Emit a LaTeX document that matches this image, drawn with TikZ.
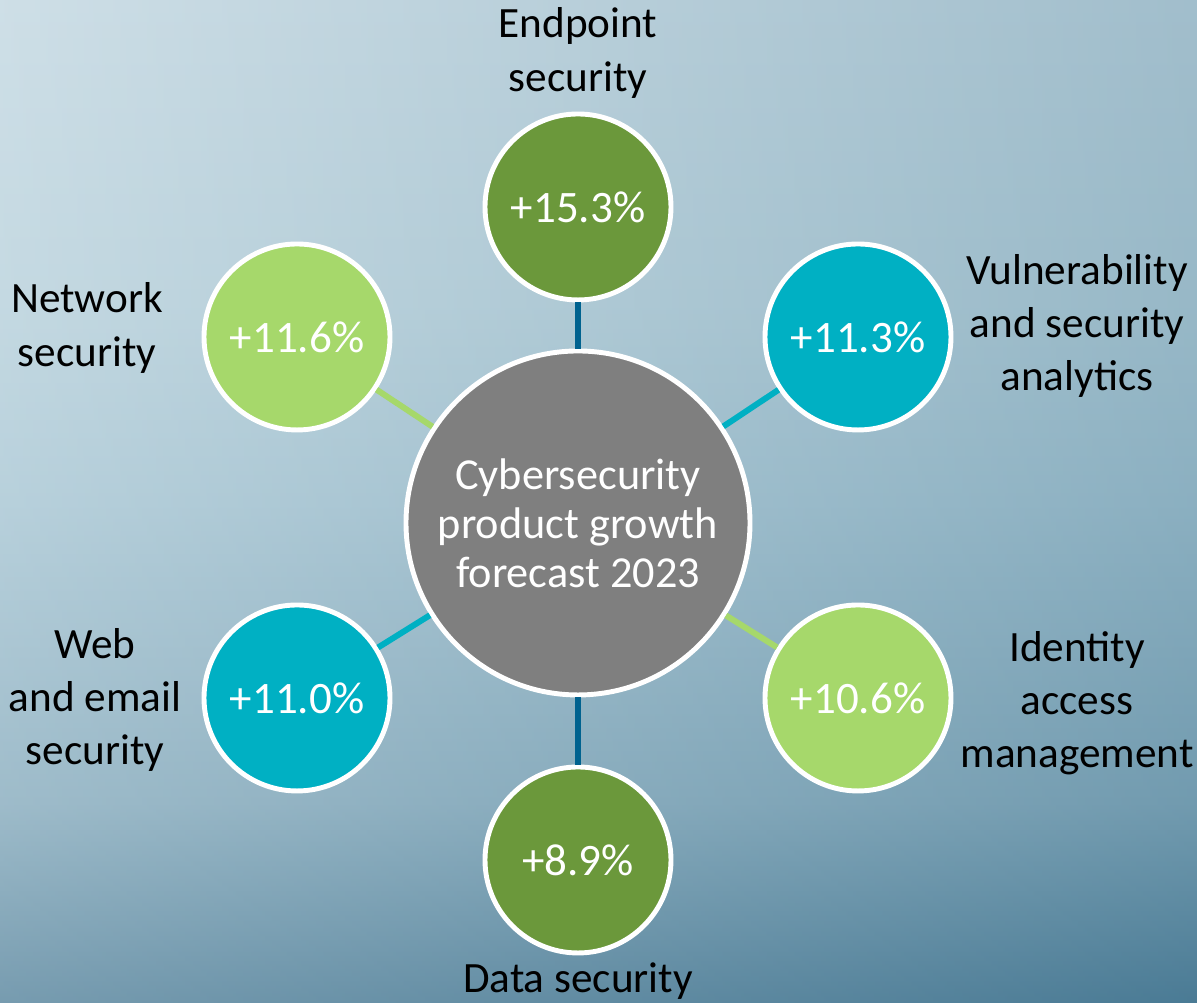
\documentclass[tikz,border=0pt]{standalone}
\usepackage{fontspec}
\setmainfont{Carlito}
\usepackage{tikz}
\usetikzlibrary{positioning}
\usepackage{xcolor}

\definecolor{hubgray}{HTML}{7F7F7F}
\definecolor{darkgreen}{HTML}{6B983B}
\definecolor{lightgreen}{HTML}{A6D86B}
\definecolor{tealblue}{HTML}{00B0C3}
\definecolor{deepblue}{HTML}{00628F}
\definecolor{skytop}{HTML}{C2D7E1}
\definecolor{skyhigh}{HTML}{B6D0DB}
\definecolor{skymid}{HTML}{A6C5D3}
\definecolor{skylow}{HTML}{86ABBD}
\definecolor{skybottom}{HTML}{55839C}
\definecolor{skydark}{HTML}{1F5A78}

% backdrop gradient, bottom to top (the path spans 25bp--75bp)
\pgfdeclareverticalshading{backdrop}{100bp}{color(0bp)=(skybottom); color(25bp)=(skybottom); color(35bp)=(skylow); color(50bp)=(skymid); color(60bp)=(skyhigh); color(75bp)=(skytop); color(100bp)=(skytop)}

\begin{document}
\begin{tikzpicture}[
  hub/.style={circle, draw=white, line width=1.4pt, fill=hubgray, text=white, align=center, minimum size=3.44cm, font=\fontsize{12.6}{13.9}\selectfont},
  ring/.style={circle, draw=white, line width=1.4pt, text=white, minimum size=1.86cm, font=\fontsize{12.8}{14}\selectfont},
  tag/.style={align=center, text=black, font=\fontsize{12.3}{15.1}\selectfont},
  link/.style={line width=1.7pt}
]
% backdrop
\useasboundingbox (0,0) rectangle (11.97,10.03);
\clip (0,0) rectangle (11.97,10.03);
\shade[shading=backdrop] (0,0) rectangle (11.97,10.03);
\shade[left color=white, right color=skydark, opacity=0.2] (0,0) rectangle (11.97,10.03);

% hub and spokes
\node[hub] (hub) at (5.78,4.80) {Cybersecurity\\product growth\\forecast 2023};

\node[ring, fill=darkgreen]  (endpoint) at (5.78,7.96) {+15.3\%};
\node[ring, fill=tealblue]   (vuln)     at (8.58,6.66) {+11.3\%};
\node[ring, fill=lightgreen] (identity) at (8.58,3.05) {+10.6\%};
\node[ring, fill=darkgreen]  (data)     at (5.78,1.43) {+8.9\%};
\node[ring, fill=tealblue]   (web)      at (2.97,3.05) {+11.0\%};
\node[ring, fill=lightgreen] (network)  at (2.97,6.66) {+11.6\%};

\draw[link, deepblue]   (hub) -- (endpoint);
\draw[link, tealblue]   (hub) -- (vuln);
\draw[link, lightgreen] (hub) -- (identity);
\draw[link, deepblue]   (hub) -- (data);
\draw[link, tealblue]   (hub) -- (web);
\draw[link, lightgreen] (hub) -- (network);

% labels
\node[tag] (endpointlbl) at (5.78,9.50) {Endpoint\\security};
\node[tag] (vulnlbl)     at (10.77,6.77) {Vulnerability\\and security\\analytics};
\node[tag] (identitylbl) at (10.77,3.00) {Identity\\access\\management};
\node[tag] (datalbl)     at (5.78,0.22) {Data security};
\node[tag] (weblbl)      at (0.95,3.03) {Web\\and email\\security};
\node[tag] (networklbl)  at (0.87,6.75) {Network\\security};
\end{tikzpicture}
\end{document}
